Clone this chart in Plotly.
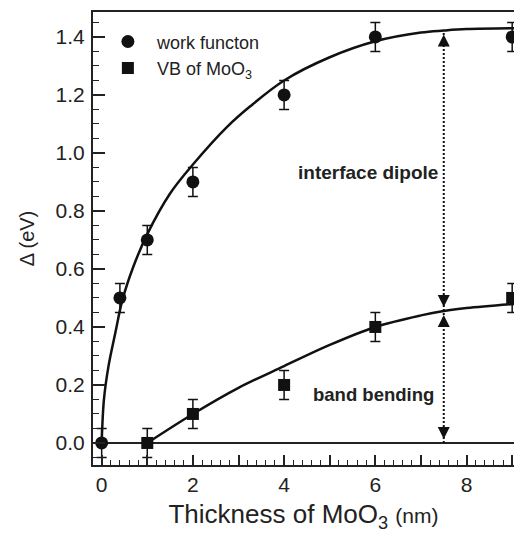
import plotly.graph_objects as go

# Measured shifts versus MoO3 thickness (nm)
thickness_wf = [0, 0.4, 1, 2, 4, 6, 9]
work_function = [0, 0.5, 0.7, 0.9, 1.2, 1.4, 1.4]
thickness_vb = [1, 2, 4, 6, 9]
vb_moo3 = [0, 0.1, 0.2, 0.4, 0.5]
error_ev = 0.05

# Fitted trend lines, sampled along the curves
fit_wf_x = [0, 0.05, 0.15, 0.3, 0.45, 0.7, 1, 1.5, 2, 2.75, 3.25, 4, 5, 6, 7, 7.5, 8, 9.1]
fit_wf_y = [0, 0.15, 0.265, 0.38, 0.49, 0.61, 0.72, 0.86, 0.96, 1.09, 1.16, 1.25, 1.33, 1.385, 1.415, 1.422, 1.427, 1.43]
fit_vb_x = [1, 2, 3, 4, 5, 6, 7, 7.5, 8, 9.1]
fit_vb_y = [0, 0.1, 0.19, 0.265, 0.338, 0.40, 0.44, 0.455, 0.465, 0.48]

# Vertical marker separating the two contributions
marker_x = 7.5
dipole_top = 1.422
bending_top = 0.455

FONT = "Liberation Sans, Arial, Helvetica, sans-serif"
INK = "#111111"
TEXT = "#222222"

fig = go.Figure()

fig.add_trace(go.Scatter(
    x=fit_wf_x, y=fit_wf_y, mode="lines", line=dict(color=INK, width=2.5, shape="spline"),
    showlegend=False, hoverinfo="skip"))
fig.add_trace(go.Scatter(
    x=fit_vb_x, y=fit_vb_y, mode="lines", line=dict(color=INK, width=2.5, shape="spline"),
    showlegend=False, hoverinfo="skip"))

fig.add_trace(go.Scatter(
    x=[marker_x, marker_x], y=[0, dipole_top], mode="lines",
    line=dict(color=INK, width=2, dash="2px,2px"), showlegend=False, hoverinfo="skip"))

fig.add_trace(go.Scatter(
    x=thickness_wf, y=work_function, mode="markers", name="work functon",
    marker=dict(symbol="circle", size=13, color=INK),
    error_y=dict(type="constant", value=error_ev, color=INK, thickness=1.5, width=5)))
fig.add_trace(go.Scatter(
    x=thickness_vb, y=vb_moo3, mode="markers", name="VB of MoO<sub>3</sub>",
    marker=dict(symbol="square", size=12, color=INK),
    error_y=dict(type="constant", value=error_ev, color=INK, thickness=1.5, width=5)))

# Arrowheads at both ends of each segment
heads = [(dipole_top, 14), (bending_top, -14), (bending_top, 14), (0, -14)]
for yy, ay in heads:
    fig.add_annotation(x=marker_x, y=yy, ax=0, ay=ay, text="", showarrow=True,
                       arrowhead=2, arrowsize=1.6, arrowwidth=1.5, arrowcolor=INK,
                       standoff=4)

fig.add_annotation(x=7.42, y=0.934, text="<b>interface dipole</b>", showarrow=False,
                   xanchor="right", yanchor="middle",
                   font=dict(family=FONT, size=19, color=TEXT))
fig.add_annotation(x=7.34, y=0.166, text="<b>band bending</b>", showarrow=False,
                   xanchor="right", yanchor="middle",
                   font=dict(family=FONT, size=18.5, color=TEXT))

fig.update_layout(
    width=514, height=535,
    margin=dict(l=93, r=0, t=12, b=70),
    paper_bgcolor="white", plot_bgcolor="white",
    font=dict(family=FONT, color=TEXT),
    legend=dict(x=0.014, y=0.975, xanchor="left", yanchor="top",
                font=dict(family=FONT, size=18, color=TEXT),
                itemwidth=48, bgcolor="rgba(0,0,0,0)", tracegroupgap=0),
    xaxis=dict(
        range=[-0.19, 9.04], showgrid=False, zeroline=False,
        showline=True, linecolor="#222", linewidth=2, mirror=True,
        ticks="inside", ticklen=10, tickwidth=1.5, tickcolor="#222",
        tickvals=list(range(0, 10)),
        ticktext=["0", "", "2", "", "4", "", "6", "", "8", ""],
        tickfont=dict(family=FONT, size=21, color=TEXT),
        minor=dict(dtick=0.2, ticks="inside", ticklen=5, tickwidth=1.2, tickcolor="#222"),
        title=dict(text="Thickness of MoO<sub>3</sub> <span style='font-size:21px'>(nm)</span>",
                   font=dict(family=FONT, size=26, color=TEXT), standoff=10),
    ),
    yaxis=dict(
        range=[-0.076, 1.486], showgrid=False,
        zeroline=True, zerolinecolor="#222", zerolinewidth=1.5,
        showline=True, linecolor="#222", linewidth=2, mirror=False,
        ticks="inside", ticklen=12, tickwidth=1.5, tickcolor="#222",
        tickvals=[0, 0.2, 0.4, 0.6, 0.8, 1.0, 1.2, 1.4],
        ticktext=["0.0", "0.2", "0.4", "0.6", "0.8", "1.0", "1.2", "1.4"],
        tickfont=dict(family=FONT, size=21, color=TEXT),
        ticklabelstandoff=2,
        minor=dict(dtick=0.05, ticks="inside", ticklen=6, tickwidth=1.2, tickcolor="#222"),
        title=dict(text="Δ (eV)", font=dict(family=FONT, size=20, color=TEXT), standoff=16),
    ),
)

fig.write_html("out.html")
